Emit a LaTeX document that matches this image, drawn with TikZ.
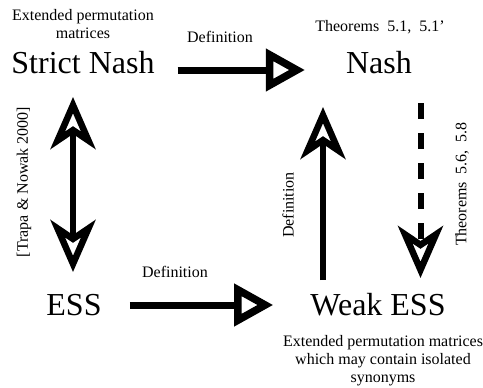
\documentclass[tikz,border=0pt]{standalone}
\usepackage{fontspec}
\setmainfont{Liberation Serif}
\usetikzlibrary{arrows.meta}
\begin{document}
\begin{tikzpicture}[x=1pt,y=-1pt,
  big/.style={font=\fontsize{32}{36}\selectfont, inner sep=0pt, anchor=base},
  small/.style={font=\fontsize{16}{18}\selectfont, inner sep=0pt, align=center},
  htip/.style={-{Triangle[open,length=39pt,width=41pt,line width=7.5pt]}},
  harrow/.style={line width=7pt, htip},
  vtip/.tip={Stealth[open,length=52pt,width=45pt,inset=15pt,line width=6.5pt]},
  varrow/.style={line width=6pt, -vtip},
  dvarrow/.style={line width=6pt, vtip-vtip},
  dasharrow/.style={varrow, dash pattern=on 16pt off 14pt}
]
\useasboundingbox (0,0) rectangle (483,388);
% main nodes
\node[big] (sn) at (83,74) {Strict Nash};
\node[big] (nash) at (379,74) {Nash};
\node[big] (ess) at (74,315) {ESS};
\node[big] (weak) at (378,315) {Weak ESS};
% labels
\node[small, anchor=north] (l1) at (83,9) {Extended permutation\\matrices};
\node[small, anchor=base] (l2) at (220,42) {Definition};
\node[small, anchor=base] (l3) at (380,31) {Theorems\ \ 5.1,\ \ 5.1’};
\node[small, rotate=90] (l4) at (24,182) {[Trapa \& Nowak 2000]};
\node[small, rotate=90] (l5) at (288,205) {Definition};
\node[small, rotate=90] (l6) at (462,184) {Theorems\ \ 5.6,\ \ 5.8};
\node[small, anchor=base] (l7) at (175,277) {Definition};
\node[small, anchor=north] (l8) at (383,335) {Extended permutation matrices\\which may contain isolated\\synonyms};
% connectors
\draw[harrow] ([shift={(23,-4)}]sn.base east) -- ([shift={(-41,-4)}]nash.base west);
\draw[harrow] ([shift={(28,-10)}]ess.base east) -- ([shift={(-37,-10)}]weak.base west);
\draw[dvarrow] ([shift={(-10,23)}]sn.base) -- ([shift={(-1,-43)}]ess.base);
\draw[varrow] ([shift={(-55,-35)}]weak.base) -- ([shift={(-56,33)}]nash.base);
\draw[dasharrow] ([shift={(41.5,29)}]nash.base) -- ([shift={(42.5,-37)}]weak.base);
\end{tikzpicture}
\end{document}
